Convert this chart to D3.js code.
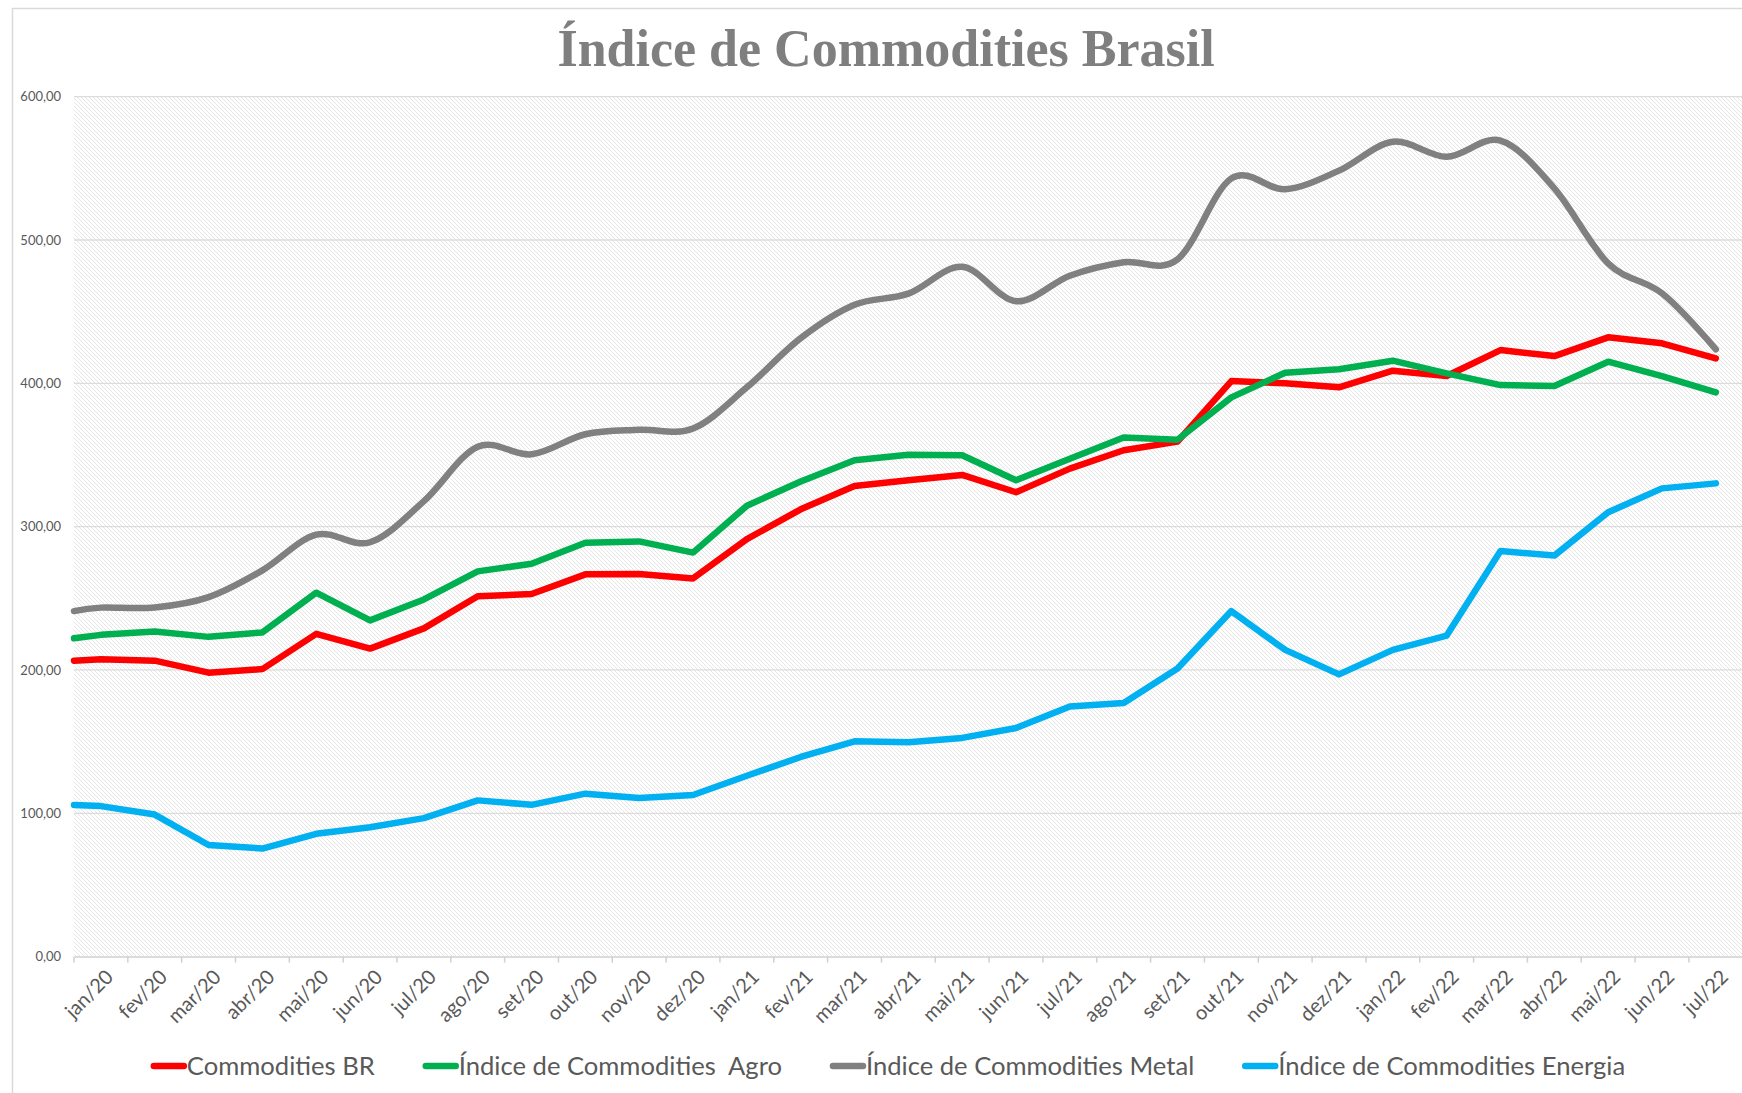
<!doctype html>
<html>
<head>
    <meta charset="UTF-8">
    <title>Índice de Commodities Brasil</title>
    <script src="https://d3js.org/d3.v7.min.js" charset="utf-8"></script>
    <style>
        body { margin: 0; background: #fff; }
        text { font-family: Lato, "Open Sans", sans-serif; }
    </style>
</head>
<body>
<svg id="chart" width="1742" height="1093"></svg>
<script>
    // meses do eixo x
    var months = ["jan/20","fev/20","mar/20","abr/20","mai/20","jun/20","jul/20","ago/20","set/20","out/20","nov/20","dez/20",
                  "jan/21","fev/21","mar/21","abr/21","mai/21","jun/21","jul/21","ago/21","set/21","out/21","nov/21","dez/21",
                  "jan/22","fev/22","mar/22","abr/22","mai/22","jun/22","jul/22"];

    var seriesNames = ["Commodities BR", "Índice de Commodities  Agro", "Índice de Commodities Metal", "Índice de Commodities Energia"];

    var commoditiesBR = [207.5,206.5,198.1,200.6,225.2,214.9,229.0,251.4,253.0,266.7,267.0,263.9,
                         291.3,312.1,328.3,332.4,336.1,324.0,340.5,353.3,359.3,401.6,400.0,397.2,
                         408.8,405.1,423.2,419.0,432.1,427.9,417.4];
    var agro = [224.5,226.8,223.1,226.2,253.9,234.6,249.2,268.8,274.1,288.8,289.7,281.9,
                314.6,331.5,346.4,350.2,349.8,332.4,347.4,362.2,360.6,390.2,407.4,409.8,
                415.8,407.0,398.8,398.1,415.1,405.1,393.7];
    var metal = [243.5,243.6,250.8,269.5,294.4,289.1,317.8,355.8,350.5,364.5,367.6,368.5,
                 397.2,431.5,454.8,462.6,481.3,457.3,475.1,484.5,486.5,543.0,535.4,548.4,
                 568.6,558.1,569.3,536.0,483.7,462.8,423.7];
    var energia = [105.0,99.1,77.9,75.4,85.7,90.3,96.6,109.0,105.9,113.7,110.6,112.8,
                   126.2,139.3,150.2,149.5,152.6,159.5,174.5,177.0,201.0,241.1,214.0,196.9,
                   214.0,224.0,283.0,279.8,310.0,326.7,330.2];
    // valor de cada linha na borda esquerda da área de plotagem
    var leftEdge = [206.5, 222.1, 241.1, 105.8];

    var yTicks = [0, 100, 200, 300, 400, 500, 600];
    var colors = ["#FF0000", "#00B050", "#808080", "#00B0F0"];

    var svg = d3.select("#chart");
    var plotLeft = 74, plotTop = 96.7, plotBottom = 956.6;
    var step = 53.83;

    var x = d3.scaleBand().domain(months).range([plotLeft, plotLeft + months.length * step]).padding(0);
    var y = d3.scaleLinear().domain([0, 600]).range([plotBottom, plotTop]);
    var cx = function(m) { return x(m) + x.bandwidth() / 2; };

    // borda do gráfico
    svg.append("rect").attr("x", 12.5).attr("y", 8.5).attr("width", 1800).attr("height", 1200)
        .attr("fill", "#fff").attr("stroke", "#d9d9d9").attr("stroke-width", 1.5);

    // hachura da área de plotagem
    var defs = svg.append("defs");
    var pat = defs.append("pattern").attr("id", "hatch").attr("patternUnits", "userSpaceOnUse")
        .attr("width", 4).attr("height", 4);
    pat.append("rect").attr("width", 4).attr("height", 4).attr("fill", "#ffffff");
    pat.append("path").attr("d", "M0,0 L4,4 M-1,3 L1,5 M3,-1 L5,1")
        .attr("stroke", "#e2e2e2").attr("stroke-width", 0.9);

    svg.append("rect").attr("x", plotLeft).attr("y", plotTop)
        .attr("width", x.range()[1] - plotLeft).attr("height", plotBottom - plotTop)
        .attr("fill", "url(#hatch)");

    // grade
    svg.append("g").selectAll("line").data(yTicks.slice(1)).join("line")
        .attr("x1", plotLeft).attr("x2", x.range()[1])
        .attr("y1", function(d) { return y(d); }).attr("y2", function(d) { return y(d); })
        .attr("stroke", "#dcdcdc").attr("stroke-width", 1.3);

    // eixo y
    var yAxis = svg.append("g").attr("transform", "translate(" + (plotLeft - 13) + ",0)")
        .call(d3.axisLeft(y).tickValues(yTicks).tickSize(0).tickPadding(0)
            .tickFormat(function(d) { return d3.format(".2f")(d).replace(".", ","); }));
    yAxis.select(".domain").remove();
    yAxis.selectAll("text").attr("font-size", 13).attr("fill", "#595959")
        .style("font-family", "Lato, sans-serif");

    // eixo x
    var xAxis = svg.append("g").attr("transform", "translate(0," + plotBottom + ")")
        .call(d3.axisBottom(x).tickSize(0).tickFormat(""));
    xAxis.select(".domain").attr("stroke", "#d0d0d0").attr("stroke-width", 1.5);
    svg.append("g").selectAll("line").data(months.concat(["end"])).join("line")
        .attr("x1", function(d, i) { return plotLeft + i * x.step(); })
        .attr("x2", function(d, i) { return plotLeft + i * x.step(); })
        .attr("y1", plotBottom).attr("y2", plotBottom + 6)
        .attr("stroke", "#d0d0d0").attr("stroke-width", 1.5);

    svg.append("g").selectAll("text").data(months).join("text")
        .attr("transform", function(d) { return "translate(" + (cx(d) + 3) + "," + (plotBottom + 11) + ") rotate(-45)"; })
        .attr("text-anchor", "end").attr("dy", "0.75em")
        .attr("font-size", 20).attr("fill", "#595959")
        .text(function(d) { return d; });

    // linhas
    var allSeries = [commoditiesBR, agro, metal, energia];
    allSeries.forEach(function(vals, k) {
        var pts = [[x.range()[0], y(leftEdge[k])]].concat(vals.map(function(v, i) { return [cx(months[i]), y(v)]; }));
        var line = d3.line().curve(k === 2 ? d3.curveCardinal.tension(0) : d3.curveLinear);
        svg.append("path").attr("d", line(pts))
            .attr("fill", "none").attr("stroke", colors[k]).attr("stroke-width", 6.5)
            .attr("stroke-linejoin", "round").attr("stroke-linecap", "round");
    });

    // título
    svg.append("text").attr("x", 886).attr("y", 66)
        .attr("text-anchor", "middle")
        .style("font-family", "'Liberation Serif', serif").attr("font-weight", "bold")
        .attr("font-size", 52).attr("fill", "#7f7f7f")
        .text("Índice de Commodities Brasil");

    // legenda
    var legend = svg.append("g");
    var lx = 0;
    seriesNames.forEach(function(name, k) {
        var g = legend.append("g").attr("transform", "translate(" + lx + ",0)");
        g.append("line").attr("x1", 3).attr("x2", 33).attr("y1", 1066).attr("y2", 1066)
            .attr("stroke", colors[k]).attr("stroke-width", 6.5).attr("stroke-linecap", "round");
        var t = g.append("text").attr("x", 36).attr("y", 1075).attr("font-size", 25.6)
            .attr("fill", "#595959").style("white-space", "pre").text(name);
        lx += 36 + t.node().getComputedTextLength() + 48;
    });
    lx -= 48;
    legend.attr("transform", "translate(" + (888 - lx / 2) + ",0)");
</script>
</body>
</html>
